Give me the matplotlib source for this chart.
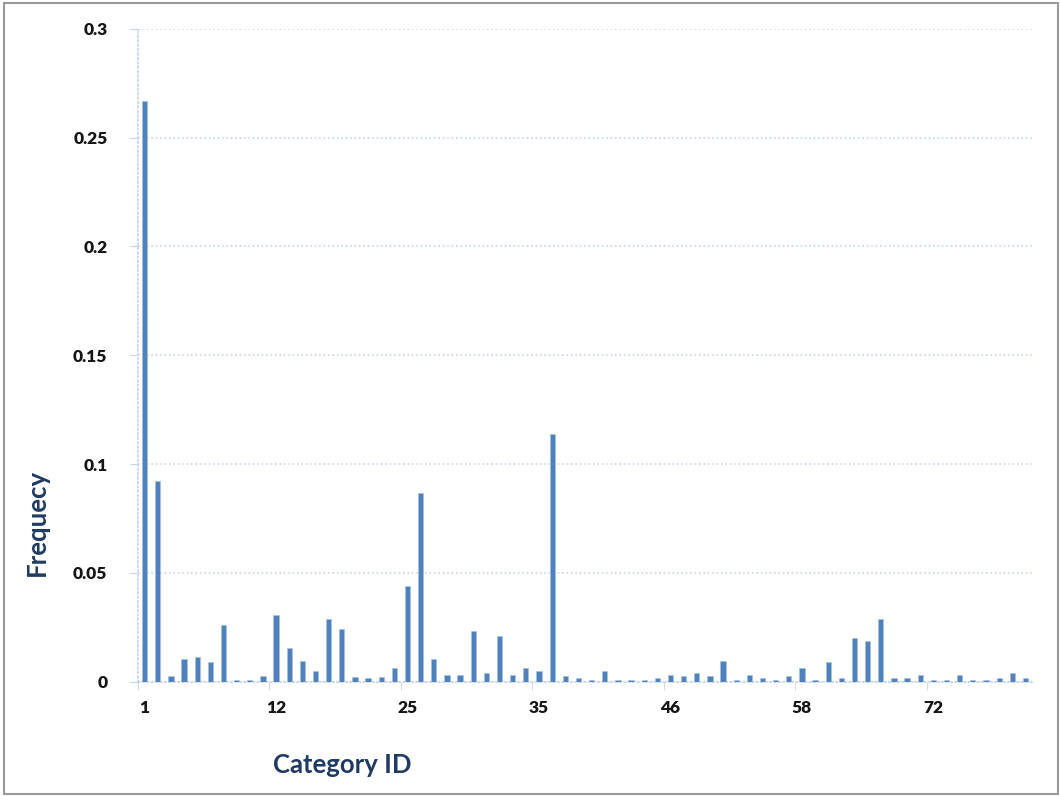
import numpy as np
import matplotlib.pyplot as plt
from matplotlib.patches import Rectangle

# category IDs (not contiguous) and their frequency
category_ids = [1, 2, 3, 4, 5, 6, 7, 8, 9, 10,
                12, 13, 14, 16, 17, 19, 20, 21, 23, 24,
                25, 26, 27, 28, 29, 30, 31, 32, 33, 34,
                35, 36, 37, 38, 39, 40, 41, 42, 43, 44,
                46, 47, 48, 49, 50, 52, 53, 54, 55, 56,
                58, 59, 60, 62, 63, 65, 66, 67, 69, 70,
                72, 73, 74, 75, 76, 77, 78, 79]
frequency = [0.267, 0.092, 0.0024, 0.0105, 0.0111, 0.009, 0.0258, 0.0008, 0.0008, 0.0024,
             0.0304, 0.0153, 0.0096, 0.0048, 0.0289, 0.024, 0.0022, 0.0015, 0.0022, 0.0064,
             0.044, 0.0867, 0.0103, 0.0031, 0.0031, 0.0232, 0.004, 0.0208, 0.0031, 0.0064,
             0.0048, 0.114, 0.0024, 0.0015, 0.0008, 0.0048, 0.0008, 0.0008, 0.0008, 0.0015,
             0.0031, 0.0024, 0.004, 0.0024, 0.0096, 0.0008, 0.0031, 0.0015, 0.0008, 0.0024,
             0.0064, 0.0008, 0.0089, 0.0015, 0.02, 0.0185, 0.0289, 0.0015, 0.0015, 0.0031,
             0.0008, 0.0008, 0.0031, 0.0008, 0.0008, 0.0015, 0.004, 0.0015]

label_step = 10
font = "Lato"
grid_col = "#c6d4ea"
title_col = "#1f3b63"

fig = plt.figure(figsize=(10.6, 7.96), dpi=100)
fig.patches.append(Rectangle((0.004, 0.002), 0.994, 0.994, transform=fig.transFigure,
                             fill=False, edgecolor="#9a9a9a", linewidth=1.5))
ax = fig.add_axes([0.1302, 0.1438, 0.8434, 0.8198])

x = np.arange(len(frequency))
ax.bar(x, frequency, width=0.4, color="#4f81bd", edgecolor="#a9c0e0", linewidth=0.4, zorder=3)

ax.set_xlim(-0.5, len(frequency) - 0.5)
ax.set_ylim(0, 0.3)
ax.set_yticks(np.arange(0, 0.301, 0.05))
ax.set_yticklabels(["0", "0.05", "0.1", "0.15", "0.2", "0.25", "0.3"])
ax.yaxis.grid(True, linestyle=":", color=grid_col, linewidth=1.2, zorder=0)

# category labels every 10th bar, tick marks between categories
ax.set_xticks(x[::label_step])
ax.set_xticklabels([str(category_ids[i]) for i in x[::label_step]])
ax.set_xticks(np.arange(-0.5, len(frequency), label_step), minor=True)
ax.tick_params(axis="x", which="major", length=0, pad=13)
ax.tick_params(axis="x", which="minor", length=6, color=grid_col, direction="out")
ax.tick_params(axis="y", length=6, color=grid_col, pad=16)
for lab in ax.get_xticklabels() + ax.get_yticklabels():
    lab.set_fontfamily(font)
    lab.set_fontweight("heavy")
    lab.set_fontsize(12.5)
    lab.set_color("#151515")

for side in ["top", "right"]:
    ax.spines[side].set_visible(False)
for side in ["left", "bottom"]:
    ax.spines[side].set_linestyle(":")
    ax.spines[side].set_color(grid_col)
    ax.spines[side].set_linewidth(1.2)

ax.set_ylabel("Frequecy", fontfamily=font, fontweight="bold", fontsize=18.5, color=title_col,
              va="center")
ax.set_xlabel("Category ID", fontfamily=font, fontweight="bold", fontsize=18.5, color=title_col,
              va="center")
ax.yaxis.set_label_coords(-0.113, 0.244)
ax.xaxis.set_label_coords(0.229, -0.128)

fig.savefig("out.png", dpi=100)
plt.close(fig)
